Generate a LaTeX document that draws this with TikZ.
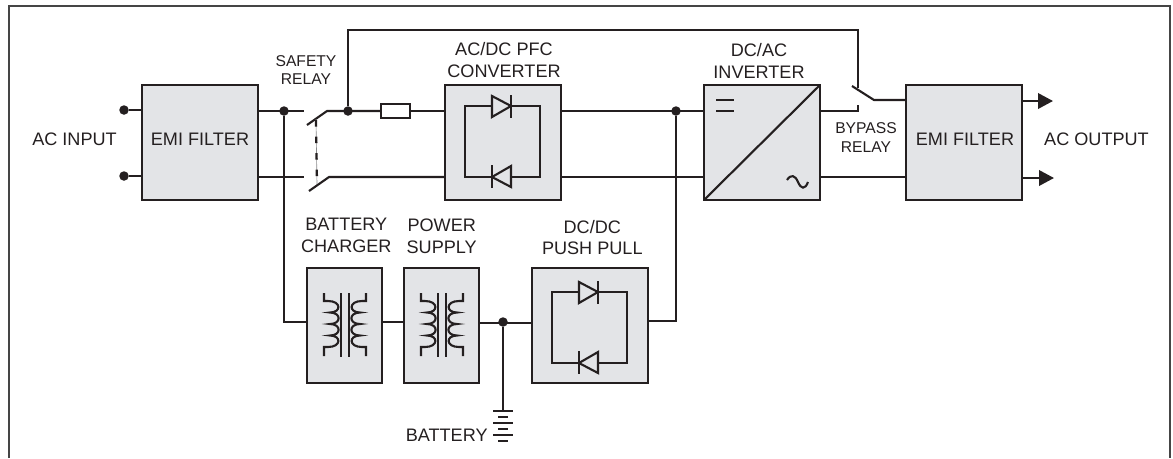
\documentclass[tikz,border=0pt]{standalone}
\usepackage{fontspec}
\setmainfont{Liberation Sans}
\usepackage{pgf,tikz}
\usetikzlibrary{arrows.meta}
\definecolor{boxgray}{rgb}{0.89,0.895,0.905}
\definecolor{inkblack}{rgb}{0.14,0.12,0.125}
\definecolor{framegray}{rgb}{0.27,0.27,0.27}
\tikzset{
block/.style={draw=inkblack,fill=boxgray,line width=1.2pt,minimum width=2.32cm,minimum height=2.3cm,inner sep=0pt,outer sep=0pt},
narrowblock/.style={block,minimum width=1.5cm},
lbl/.style={text=inkblack,inner sep=0pt,align=center,font=\fontsize{10.3}{12.5}\selectfont},
smalllbl/.style={text=inkblack,inner sep=0pt,align=center,font=\fontsize{8.9}{10.7}\selectfont},
jdot/.style={circle,fill=inkblack,inner sep=0pt,minimum size=0.19cm},
wire/.style={color=inkblack,line width=1.2pt},
sym/.style={color=inkblack,line width=1.2pt}
}
\begin{document}
\begin{tikzpicture}[line cap=butt,line join=miter,x=0.02cm,y=-0.02cm]
\useasboundingbox (0,0) rectangle (1173,458);
\draw[color=framegray,line width=0.9pt] (9,458) -- (9,6) -- (1170,6) -- (1170,458);
% blocks
\node[block] (emiin) at (200,142.5) {};
\node[block] (pfc) at (503,142.5) {};
\node[block] (inverter) at (762,142.5) {};
\node[block] (emiout) at (964,142.5) {};
\node[narrowblock] (charger) at (344.5,325.5) {};
\node[narrowblock] (supply) at (441.5,325.5) {};
\node[block] (pushpull) at (590,325.5) {};
% labels
\node[lbl] (emiinlbl) at (200,139) {EMI FILTER};
\node[lbl] (emioutlbl) at (965,139) {EMI FILTER};
\node[lbl] (acin) at (74.5,139) {AC INPUT};
\node[lbl] (acout) at (1096.5,139) {AC OUTPUT};
\node[smalllbl] (safety) at (306,70) {SAFETY\\RELAY};
\node[smalllbl] (bypass) at (866,137.5) {BYPASS\\RELAY};
\node[lbl] (pfclbl) at (504,60.5) {AC/DC PFC\\CONVERTER};
\node[lbl] (invlbl) at (759,60.5) {DC/AC\\INVERTER};
\node[lbl] (chglbl) at (346.3,235.5) {BATTERY\\CHARGER};
\node[lbl] (suplbl) at (441.7,236.5) {POWER\\SUPPLY};
\node[lbl] (pplbl) at (592.3,237.5) {DC/DC\\PUSH PULL};
\node[lbl] (batlbl) at (446.7,435.7) {BATTERY};
% junctions and free ends
\node[jdot] (inA) at (124,110) {};
\node[jdot] (inB) at (124,176) {};
\node[jdot] (tapin) at (284,111) {};
\node[jdot] (tapbyp) at (348,111) {};
\node[jdot] (tapdc) at (676,111) {};
\node[jdot] (tapbat) at (503,322) {};
\coordinate (cutA) at (304,111);
\coordinate (cutB) at (304,177);
\coordinate (swA) at (327,111);
\coordinate (swAend) at (307,125);
\coordinate (swB) at (329,177);
\coordinate (swBend) at (309,191);
\coordinate (fuseL) at (381,111);
\coordinate (fuseR) at (410,111);
\coordinate (chgin) at (284,322);
\coordinate (pptap) at (676,321);
\coordinate (topL) at (348,30);
\coordinate (topR) at (858,30);
\coordinate (bypT) at (858,88);
\coordinate (bypC) at (858,105);
\coordinate (bypM) at (858,111);
\coordinate (bladeA) at (852,86);
\coordinate (bladeB) at (874,100);
\coordinate (arrA) at (1053,101);
\coordinate (arrB) at (1054,178);
\coordinate (batT) at (503,411);
% wires
\draw[wire] (inA) -- (emiin.west |- inA);
\draw[wire] (inB) -- (emiin.west |- inB);
\draw[wire] (emiin.east |- cutA) -- (cutA);
\draw[wire] (emiin.east |- cutB) -- (cutB);
\draw[wire] (tapin) -- (chgin) -- (charger.west |- chgin);
\draw[wire] (swAend) -- (swA) -- (fuseL);
\draw[wire] (fuseR) -- (pfc.west |- fuseR);
\draw[wire] (swBend) -- (swB) -- (pfc.west |- swB);
\draw[color=boxgray!60!black,line width=0.35pt] (316,119) -- (317,184);
\draw[wire,line width=1.3pt,dash pattern=on 3.8pt off 5.6pt] (316,120) -- (317,184);
\draw[wire] (tapbyp) -- (topL) -- (topR) -- (bypT);
\draw[wire] (pfc.east |- tapdc) -- (inverter.west |- tapdc);
\draw[wire] (pfc.east |- swB) -- (inverter.west |- swB);
\draw[wire] (tapdc) -- (pptap) -- (pushpull.east |- pptap);
\draw[wire] (inverter.east |- bypM) -- (bypM) -- (bypC);
\draw[wire] (bladeA) -- (bladeB) -- (emiout.west |- bladeB);
\draw[wire] (inverter.east |- 0,177) -- (emiout.west |- 0,177);
\draw[wire,-{Triangle[length=0.3cm,width=0.31cm]}] (emiout.east |- arrA) -- (arrA);
\draw[wire,-{Triangle[length=0.3cm,width=0.31cm]}] (emiout.east |- arrB) -- (arrB);
\draw[wire] (charger.east |- 0,322) -- (supply.west |- 0,322);
\draw[wire] (supply.east |- 0,323) -- (pushpull.west |- 0,323);
\draw[wire] (tapbat) -- (batT);
% fuse
\draw[sym] (381,104) rectangle (410,118);
% battery plates
\foreach \y/\w in {411/10,417/5,423/10,429/5,435/10,441/5}
\draw[sym] ({503-\w},\y) -- ({503+\w},\y);
% diode loops
\foreach \dx/\dy in {0/0,87/186}
{
\begin{scope}[shift={(\dx,\dy)}]
\draw[sym] (465,106) rectangle (540,177);
\draw[sym,fill=boxgray] (492,96) -- (511,106) -- (492,117) -- cycle;
\draw[sym] (511,95) -- (511,118);
\draw[sym,fill=boxgray] (511,166) -- (492,177) -- (511,187) -- cycle;
\draw[sym] (492,165) -- (492,188);
\end{scope}
}
% transformers
\foreach \dx in {345,442}
{
\begin{scope}[shift={(\dx,0)}]
\draw[sym] (-4,293) -- (-4,357);
\draw[sym] (4,293) -- (4,357);
\foreach \s in {-1,1}
\draw[sym,xscale=\s] (21,293) -- (21,301) -- (17,301)
.. controls (3.5,301) and (3.5,312.5) .. (15,312.5)
.. controls (3.5,312.5) and (3.5,324) .. (15,324)
.. controls (3.5,324) and (3.5,335.5) .. (15,335.5)
.. controls (3.5,335.5) and (3.5,347) .. (17,347) -- (21,347) -- (21,356);
\end{scope}
}
% inverter symbols
\draw[sym] (inverter.south west) -- (inverter.north east);
\draw[sym] (716,100) -- (734,100);
\draw[sym] (716,111) -- (734,111);
\draw[sym] (787,180) .. controls (791,174) and (795,175) .. (798,182) .. controls (801,189) and (805,190) .. (808,182);
\end{tikzpicture}
\end{document}
